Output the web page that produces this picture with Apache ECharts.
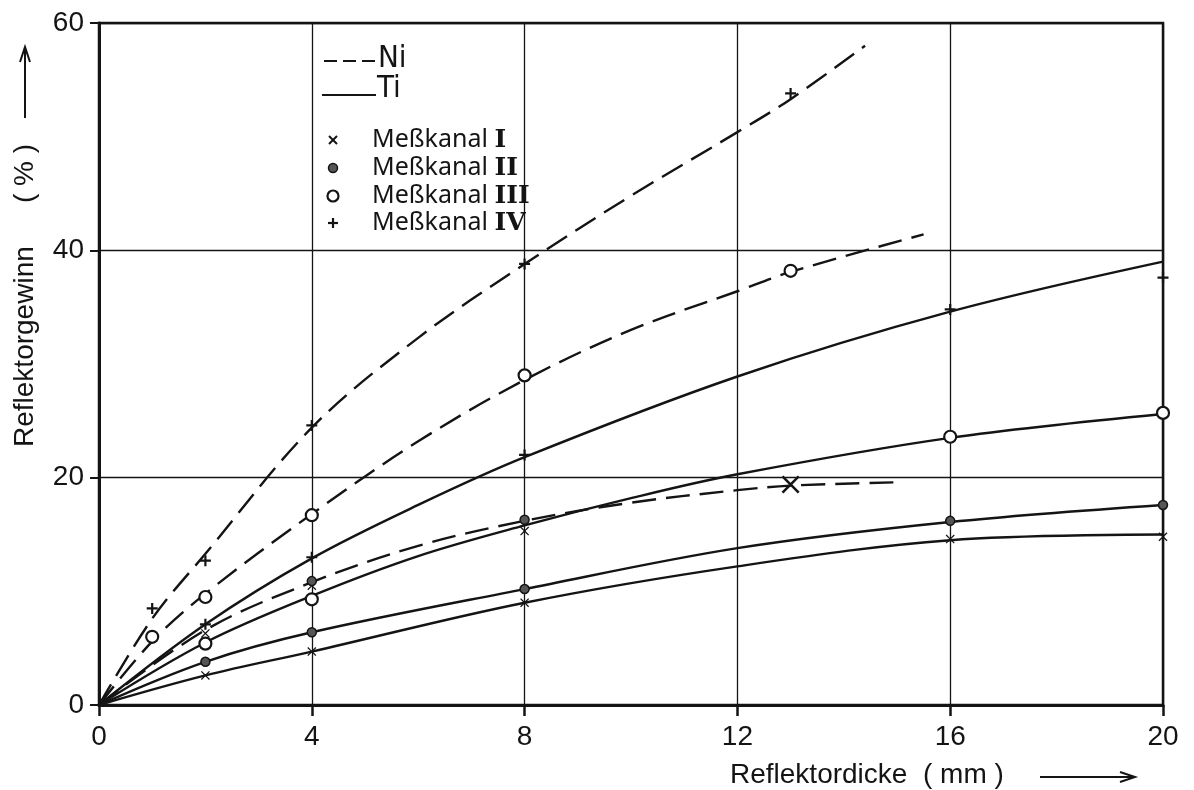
<!DOCTYPE html>
<html><head><meta charset="utf-8">
<script src="https://cdn.jsdelivr.net/npm/echarts@6/dist/echarts.min.js"></script>
<style>html,body{margin:0;padding:0;background:#fff}#c{width:1194px;height:790px}</style>
</head><body><div id="c"></div>
<script>
// ---- data (x = Reflektordicke in mm, y = Reflektorgewinn in %) ----
const xTicks = [0, 4, 8, 12, 16, 20];
const yTicks = [0, 20, 40, 60];

// Ni curves (dashed)
const niCurveIV  = [[0,0],[1,7.6],[2,13.3],[4,24.4],[6,32.3],[8,38.8],[10,44.8],[12,50.4],[13,53.3],[14.4,58]];
const niCurveIII = [[0,0],[1,5.6],[2,9.8],[4,16.8],[6,23.2],[8,28.6],[10,33],[12,36.4],[13,38.1],[15.5,41.4]];
const niCurveLow = [[0,0],[2,6.6],[4,10.8],[6,14],[8,16.2],[10,17.8],[12,18.9],[13,19.3],[15.1,19.6]];

// Ti curves (solid)
const tiCurveIV  = [[0,0],[2,7.1],[4,12.9],[6,17.6],[8,21.8],[12,28.9],[16,34.6],[20,39]];
const tiCurveIII = [[0,0],[2,5.5],[4,9.6],[6,13.1],[8,15.8],[10,18.2],[12,20.3],[16,23.5],[20,25.6]];
const tiCurveII  = [[0,0],[2,3.8],[4,6.4],[8,10.2],[12,13.8],[16,16.1],[20,17.6]];
const tiCurveI   = [[0,0],[2,2.6],[4,4.7],[8,9],[12,12.2],[16,14.5],[20,15]];

// measured points
const kanalI    = [[2,2.6],[2,6.3],[4,4.7],[4,10.5],[8,9],[8,15.3],[16,14.6],[20,14.8]];
const kanalIbig = [[13,19.4]];
const kanalII   = [[2,3.8],[4,6.4],[4,10.9],[8,10.2],[8,16.3],[16,16.2],[20,17.6]];
const kanalIII  = [[1,6],[2,9.5],[2,5.4],[4,16.7],[4,9.3],[8,29],[13,38.2],[16,23.6],[20,25.7]];
const kanalIV   = [[1,8.5],[2,12.7],[2,7.1],[4,24.6],[4,13],[8,38.8],[8,22],[13,53.8],[16,34.8],[20,37.6]];

const legendLines = ['Ni', 'Ti'];
const legendKanal = ['I', 'II', 'III', 'IV'];
const xTitle = 'Reflektordicke  ( mm )';
const yTitleA = 'Reflektorgewinn';
const yTitleB = '( % )';

// ---- styles ----
const INK = '#141414';
const FONT = '"Liberation Sans", Arial, sans-serif';
const NARROW = '"Liberation Sans Narrow", "DejaVu Sans Condensed", sans-serif';
const SYM_X = 'path://M1,0 L5,4 L9,0 L10,1 L6,5 L10,9 L9,10 L5,6 L1,10 L0,9 L4,5 L0,1 Z';
const SYM_P = 'path://M4,0 L6,0 L6,4 L10,4 L10,6 L6,6 L6,10 L4,10 L4,6 L0,6 L0,4 L4,4 Z';

function curve(data, dashed) {
  return {
    type: 'line', data: data, smooth: 0.35, showSymbol: false, silent: true,
    lineStyle: { color: INK, width: 2.4, type: dashed ? [24, 10] : 'solid' }, z: 2
  };
}
function pts(data, symbol, size, fill, border, bw) {
  return {
    type: 'scatter', data: data, symbol: symbol, symbolSize: size, silent: true,
    itemStyle: { color: fill, borderColor: border, borderWidth: bw, opacity: 1 }, z: 5
  };
}

const chart = echarts.init(document.getElementById('c'), null, { renderer: 'canvas' });

// legend graphics
const lgX = 324, lgY0 = 59;
const graphic = [];
// Ni sample (dashed)
graphic.push({ type: 'line', shape: { x1: lgX, y1: lgY0 + 2, x2: lgX + 52, y2: lgY0 + 2 }, style: { stroke: INK, lineWidth: 2.2, lineDash: [13, 6] } });
graphic.push({ type: 'text', x: lgX + 54, y: lgY0, style: { text: legendLines[0], font: '31px ' + NARROW, fill: INK, textVerticalAlign: 'middle' } });
// Ti sample (solid)
graphic.push({ type: 'line', shape: { x1: lgX - 2, y1: lgY0 + 36, x2: lgX + 52, y2: lgY0 + 36 }, style: { stroke: INK, lineWidth: 2.2 } });
graphic.push({ type: 'text', x: lgX + 53, y: lgY0 + 30, style: { text: legendLines[1], font: '31px ' + NARROW, fill: INK, textVerticalAlign: 'middle' } });
// Meßkanal rows
const kY = [140, 168, 196, 223];
const sx = 333;
// I : small x
graphic.push({ type: 'line', shape: { x1: sx - 4, y1: kY[0] - 4, x2: sx + 4, y2: kY[0] + 4 }, style: { stroke: INK, lineWidth: 2 } });
graphic.push({ type: 'line', shape: { x1: sx - 4, y1: kY[0] + 4, x2: sx + 4, y2: kY[0] - 4 }, style: { stroke: INK, lineWidth: 2 } });
// II : filled circle
graphic.push({ type: 'circle', shape: { cx: sx, cy: kY[1], r: 4.5 }, style: { fill: '#555', stroke: INK, lineWidth: 1.5 } });
// III : open circle
graphic.push({ type: 'circle', shape: { cx: sx, cy: kY[2], r: 5.5 }, style: { fill: '#fff', stroke: INK, lineWidth: 2.2 } });
// IV : plus
graphic.push({ type: 'line', shape: { x1: sx - 5, y1: kY[3], x2: sx + 5, y2: kY[3] }, style: { stroke: INK, lineWidth: 2.2 } });
graphic.push({ type: 'line', shape: { x1: sx, y1: kY[3] - 5, x2: sx, y2: kY[3] + 5 }, style: { stroke: INK, lineWidth: 2.2 } });
legendKanal.forEach(function (k, i) {
  graphic.push({ type: 'text', x: 372, y: kY[i], style: {
    text: '{a|Meßkanal}  {b|' + k + '}', textVerticalAlign: 'middle', fill: INK,
    rich: { a: { font: '25px "Noto Sans", sans-serif', fill: INK }, b: { font: 'bold 25px "DejaVu Serif", serif', fill: INK } }
  } });
});
// y title (rotated)
graphic.push({ type: 'text', x: 25, y: 447, rotation: Math.PI / 2, style: { text: yTitleA, font: '28px ' + FONT, fill: INK, textAlign: 'left', textVerticalAlign: 'middle' } });
graphic.push({ type: 'text', x: 25, y: 203, rotation: Math.PI / 2, style: { text: yTitleB, font: '28px ' + FONT, fill: INK, textAlign: 'left', textVerticalAlign: 'middle' } });
// y arrow
graphic.push({ type: 'line', shape: { x1: 25, y1: 118, x2: 25, y2: 50 }, style: { stroke: INK, lineWidth: 2 } });
graphic.push({ type: 'polyline', shape: { points: [[20, 62], [25, 47], [30, 62]] }, style: { stroke: INK, lineWidth: 2, fill: null } });
// x title
graphic.push({ type: 'text', x: 730, y: 775, style: { text: xTitle, font: '28px ' + FONT, fill: INK, textAlign: 'left', textVerticalAlign: 'middle' } });
// x arrow
graphic.push({ type: 'line', shape: { x1: 1040, y1: 777, x2: 1132, y2: 777 }, style: { stroke: INK, lineWidth: 2 } });
graphic.push({ type: 'polyline', shape: { points: [[1120, 772], [1135, 777], [1120, 782]] }, style: { stroke: INK, lineWidth: 2, fill: null } });

chart.setOption({
  backgroundColor: '#fff',
  animation: false,
  grid: { left: 99, right: 31, top: 23, bottom: 85, show: true, borderColor: INK, borderWidth: 2.5, backgroundColor: 'transparent' },
  xAxis: {
    type: 'value', min: xTicks[0], max: xTicks[xTicks.length - 1], interval: 4,
    axisLine: { show: true, lineStyle: { color: INK, width: 3 } },
    axisTick: { show: true, length: 11, lineStyle: { color: INK, width: 2.5 } },
    axisLabel: { color: INK, fontSize: 28, fontFamily: FONT, margin: 18 },
    splitLine: { show: true, lineStyle: { color: INK, width: 1.3 } }
  },
  yAxis: {
    type: 'value', min: yTicks[0], max: yTicks[yTicks.length - 1], interval: 20,
    axisLine: { show: true, lineStyle: { color: INK, width: 3 } },
    axisTick: { show: true, length: 9, lineStyle: { color: INK, width: 2 } },
    axisLabel: { color: INK, fontSize: 28, fontFamily: FONT, margin: 15 },
    splitLine: { show: true, lineStyle: { color: INK, width: 1.3 } }
  },
  graphic: graphic,
  series: [
    curve(niCurveIV, true), curve(niCurveIII, true), curve(niCurveLow, true),
    curve(tiCurveIV, false), curve(tiCurveIII, false), curve(tiCurveII, false), curve(tiCurveI, false),
    pts(kanalI, SYM_X, 9, INK, INK, 0),
    pts(kanalIbig, SYM_X, 18, INK, INK, 0),
    pts(kanalII, 'circle', 9, '#555', INK, 1.5),
    pts(kanalIII, 'circle', 12, '#fff', INK, 2.2),
    pts(kanalIV, SYM_P, 11, INK, INK, 0)
  ]
});
</script>
</body></html>
